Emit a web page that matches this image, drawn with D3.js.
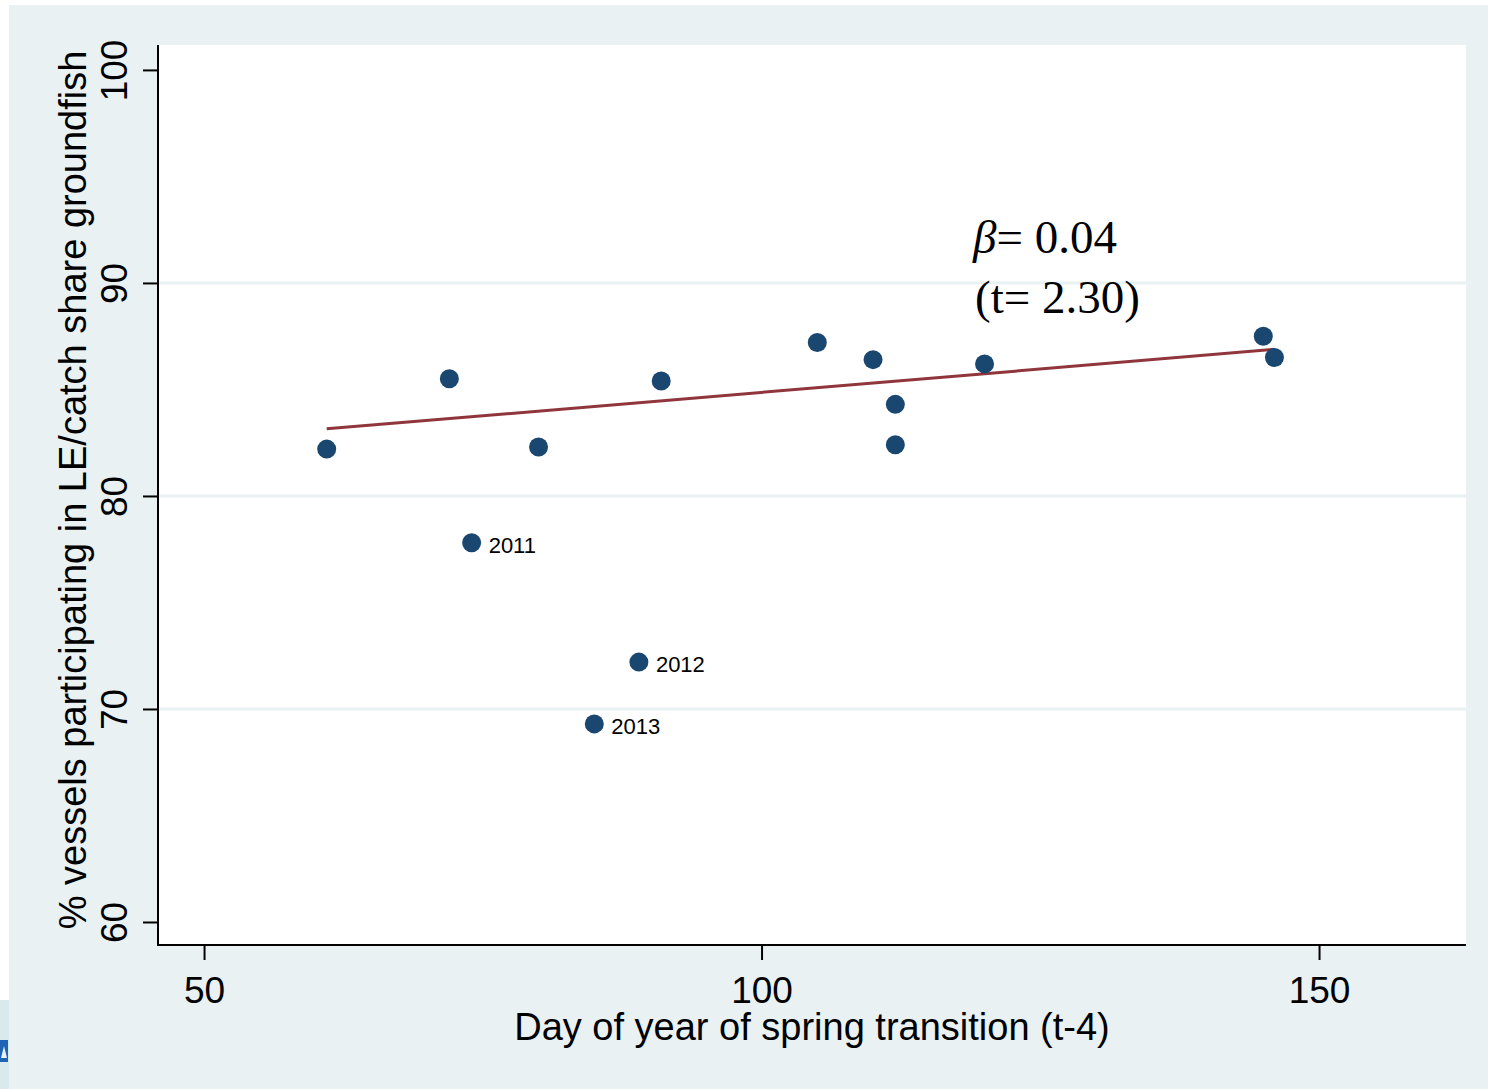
<!DOCTYPE html>
<html>
<head>
<meta charset="UTF-8" />
<title>spring transition scatter</title>
<script src="https://cdn.jsdelivr.net/npm/d3@7/dist/d3.min.js"></script>
<style>
  body { margin: 0; background: #fff; }
  svg { display: block; font-family: "Liberation Sans", Arial, sans-serif; }
</style>
</head>
<body>
<svg width="1488" height="1089"></svg>
<script>
// data
var dayOfYear = [61, 72, 74, 80, 85, 89, 91, 105, 110, 112, 112, 120, 145, 146];
var pctVessels = [82.2, 85.5, 77.8, 82.3, 69.3, 72.2, 85.4, 87.2, 86.4, 84.3, 82.4, 86.2, 87.5, 86.5];
var pointLabels = ["", "", "2011", "", "2013", "2012", "", "", "", "", "", "", "", ""];
var fitX = [61, 146];
var fitY = [83.15, 86.88];
var xTicks = [50, 100, 150];
var yTicks = [60, 70, 80, 90, 100];
var gridTicks = [70, 80, 90];

var svg = d3.select("svg");

// outer frame
svg.append("rect").attr("x", 9).attr("y", 5).attr("width", 1479).attr("height", 1084).attr("fill", "#e9f1f3");
svg.append("rect").attr("x", 0).attr("y", 1000).attr("width", 9).attr("height", 89).attr("fill", "#d9eaee");
svg.append("path").attr("d", "M0,1040 L8,1040 L8,1062 L0,1062 Z").attr("fill", "#1f63b5");
svg.append("path").attr("d", "M1,1058 L4,1046 L7,1058 Z").attr("fill", "#e8f1f6");

var pLeft = 158, pRight = 1466, pTop = 45, pBottom = 945;

svg.append("rect")
  .attr("x", pLeft).attr("y", pTop)
  .attr("width", pRight - pLeft).attr("height", pBottom - pTop)
  .attr("fill", "#fff");

var x = d3.scaleLinear().domain([45.87, 163.18]).range([pLeft, pRight]);
var y = d3.scaleLinear().domain([58.92, 101.17]).range([pBottom, pTop]);

// gridlines
svg.append("g")
  .selectAll("line")
  .data(gridTicks)
  .enter()
  .append("line")
  .attr("x1", pLeft).attr("x2", pRight)
  .attr("y1", d => y(d)).attr("y2", d => y(d))
  .attr("stroke", "#e9f1f3")
  .attr("stroke-width", 3);

// axes
var yAxis = svg.append("g")
  .attr("transform", "translate(" + pLeft + ",0)")
  .call(d3.axisLeft(y).tickValues(yTicks).tickSize(15).tickFormat(d3.format("d")));
yAxis.select(".domain").remove();
yAxis.selectAll("line").attr("stroke", "#000").attr("stroke-width", 2);
yAxis.selectAll("text")
  .attr("x", null).attr("dy", null)
  .attr("text-anchor", "middle")
  .attr("fill", "#000")
  .style("font-size", "37px")
  .attr("transform", "translate(-31,0) rotate(-90)");

var xAxis = svg.append("g")
  .attr("transform", "translate(0," + pBottom + ")")
  .call(d3.axisBottom(x).tickValues(xTicks).tickSize(15).tickFormat(d3.format("d")));
xAxis.select(".domain").remove();
xAxis.selectAll("line").attr("stroke", "#000").attr("stroke-width", 2);
xAxis.selectAll("text")
  .attr("y", 58).attr("dy", null)
  .attr("fill", "#000")
  .style("font-size", "37px");

svg.append("line")
  .attr("x1", pLeft).attr("x2", pLeft).attr("y1", pTop).attr("y2", pBottom + 1)
  .attr("stroke", "#000").attr("stroke-width", 2);
svg.append("line")
  .attr("x1", pLeft - 1).attr("x2", pRight).attr("y1", pBottom).attr("y2", pBottom)
  .attr("stroke", "#000").attr("stroke-width", 2);

// axis titles
svg.append("text")
  .attr("transform", "translate(86,490) rotate(-90)")
  .attr("text-anchor", "middle")
  .style("font-size", "38px")
  .text("% vessels participating in LE/catch share groundfish");

svg.append("text")
  .attr("x", 812)
  .attr("y", 1040)
  .attr("text-anchor", "middle")
  .style("font-size", "38px")
  .text("Day of year of spring transition (t-4)");

// fit line
svg.append("line")
  .attr("x1", x(fitX[0])).attr("y1", y(fitY[0]))
  .attr("x2", x(fitX[1])).attr("y2", y(fitY[1]))
  .attr("stroke", "#90353b")
  .attr("stroke-width", 3);

// points
var idx = d3.range(dayOfYear.length);
svg.append("g")
  .selectAll("circle")
  .data(idx)
  .enter()
  .append("circle")
  .attr("cx", i => x(dayOfYear[i]))
  .attr("cy", i => y(pctVessels[i]))
  .attr("r", 9.5)
  .attr("fill", "#1a476f");

svg.append("g")
  .selectAll("text")
  .data(idx.filter(i => pointLabels[i]))
  .enter()
  .append("text")
  .attr("x", i => x(dayOfYear[i]) + 17)
  .attr("y", i => y(pctVessels[i]) + 10)
  .style("font-size", "22px")
  .text(i => pointLabels[i]);

// annotation
var note = svg.append("text")
  .attr("x", 973)
  .attr("y", 253)
  .style("font-family", "'Liberation Serif', 'Times New Roman', serif")
  .style("font-size", "47px");
note.append("tspan").style("font-style", "italic").text("β");
note.append("tspan").text("= 0.04");

svg.append("text")
  .attr("x", 975)
  .attr("y", 313)
  .style("font-family", "'Liberation Serif', 'Times New Roman', serif")
  .style("font-size", "47px")
  .text("(t= 2.30)");
</script>
</body>
</html>
